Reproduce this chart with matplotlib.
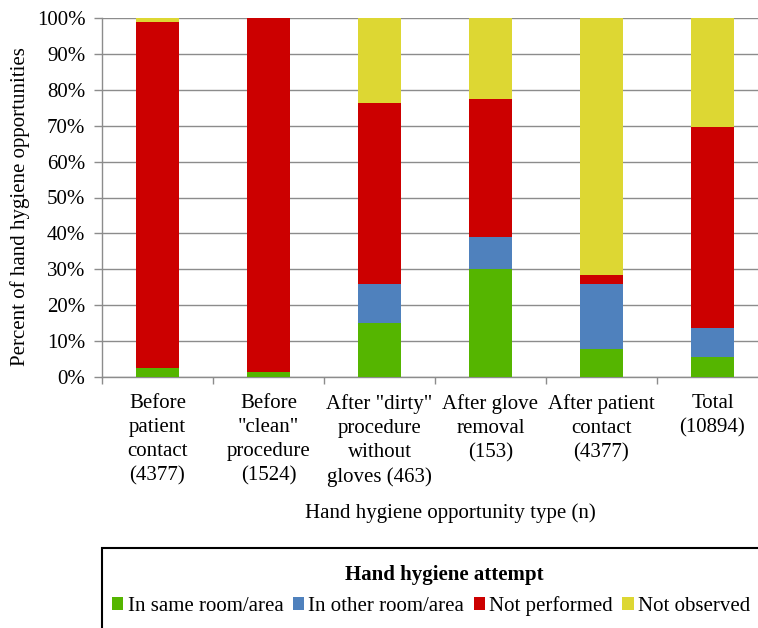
import matplotlib
matplotlib.use("Agg")
from matplotlib import pyplot as plt
from matplotlib.patches import Rectangle
import numpy as np

plt.rcParams["font.family"] = ["Liberation Serif", "DejaVu Serif"]

categories = ["Before\npatient\ncontact\n(4377)",
              "Before\n\"clean\"\nprocedure\n(1524)",
              "After \"dirty\"\nprocedure\nwithout\ngloves (463)",
              "After glove\nremoval\n(153)",
              "After patient\ncontact\n(4377)",
              "Total\n(10894)"]

same_room = [2.5, 1.5, 15.0, 30.2, 7.8, 5.7]
other_room = [0.0, 0.0, 10.9, 8.8, 18.2, 7.9]
not_performed = [96.4, 98.5, 50.5, 38.5, 2.5, 56.1]
not_observed = [1.1, 0.0, 23.6, 22.5, 71.5, 30.3]

series_names = ["In same room/area", "In other room/area", "Not performed", "Not observed"]
colors = ["#55b500", "#4f81bd", "#cc0000", "#ddd733"]

W, H = 758, 628
fig = plt.figure(figsize=(W / 100, H / 100), dpi=100)
ax = fig.add_axes([102 / W, 1 - 377 / H, 666 / W, 359 / H])

x = np.arange(len(categories))
bottom = np.zeros(len(categories))
bars = []
for vals, name, c in zip([same_room, other_room, not_performed, not_observed], series_names, colors):
    b = ax.bar(x, vals, width=0.39, bottom=bottom, color=c, label=name, zorder=3)
    bars.append(b)
    bottom += np.array(vals)

fs = 15
ax.set_xlim(-0.5, len(categories) - 0.5)
ax.set_ylim(0, 100)
ax.set_yticks(np.arange(0, 101, 10))
ax.set_yticklabels([f"{v}%" for v in range(0, 101, 10)], fontsize=fs)
ax.yaxis.grid(True, color="#8c8c8c", lw=1.0, zorder=0)
ax.set_axisbelow(True)

ax.set_xticks(x)
ax.set_xticklabels(categories, fontsize=fs, va="top", linespacing=1.36)
ax.tick_params(axis="x", length=0, pad=12)
ax.set_xticks(np.arange(-0.5, len(categories), 1), minor=True)
ax.tick_params(axis="x", which="minor", length=5, color="#8c8c8c", width=1.0)
ax.tick_params(axis="y", length=6, color="#8c8c8c", width=1.0, pad=6)

for s in ["top", "right"]:
    ax.spines[s].set_visible(False)
for s in ["left", "bottom"]:
    ax.spines[s].set_color("#8c8c8c")
    ax.spines[s].set_linewidth(1.0)

fig.text(20 / W, 1 - 207 / H, "Percent of hand hygiene opportunities", rotation=90,
         ha="center", va="center", fontsize=fs)
fig.text(450 / W, 1 - 513 / H, "Hand hygiene opportunity type (n)",
         ha="center", va="center", fontsize=fs)

# legend box
fig.patches.append(Rectangle((102 / W, -0.1), 1.0, 1 - 548 / H + 0.1, transform=fig.transFigure,
                             fill=False, ec="black", lw=1.5))
fig.text(444 / W, 1 - 575 / H, "Hand hygiene attempt", ha="center", va="center",
         fontsize=fs, fontweight="bold")
fig.legend(handles=bars, labels=series_names, loc="center", bbox_to_anchor=(431 / W, 1 - 606 / H),
           ncol=4, frameon=False, fontsize=fs, handlelength=0.55, handleheight=0.55,
           handletextpad=0.2, columnspacing=0.45, borderpad=0, borderaxespad=0)

fig.savefig("out.png", dpi=100)
